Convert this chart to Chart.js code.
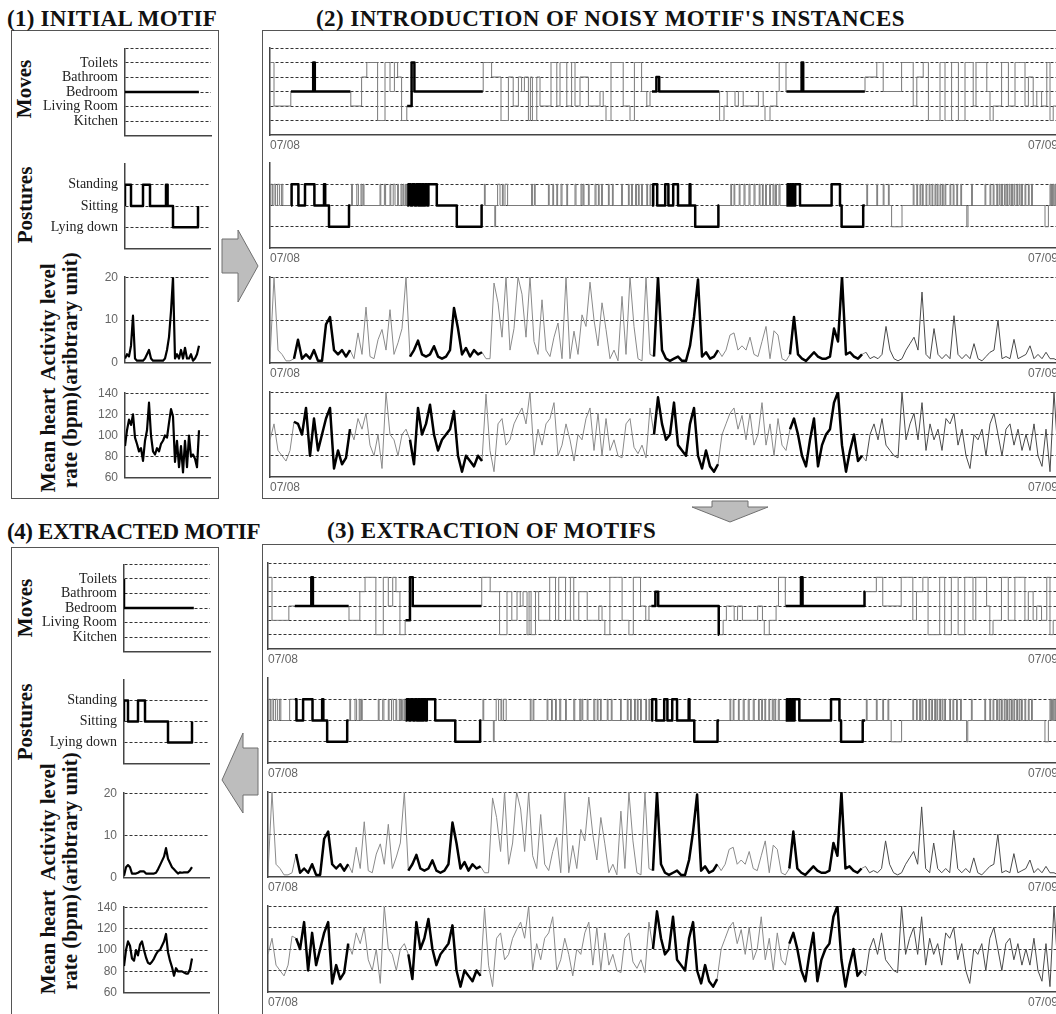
<!DOCTYPE html>
<html><head><meta charset="utf-8">
<script src="https://cdn.jsdelivr.net/npm/chart.js@4.4.1/dist/chart.umd.min.js"></script>
<style>
html,body{margin:0;padding:0;background:#fff;}
body{width:1056px;height:1014px;overflow:hidden;position:relative;}
.t{position:absolute;font-family:"Liberation Serif","Times New Roman",serif;font-weight:bold;font-size:23px;line-height:23px;color:#111;white-space:nowrap;}
.box{position:absolute;border:1px solid #555;box-sizing:border-box;}
.yl{position:absolute;font-family:"Liberation Serif","Times New Roman",serif;font-weight:bold;font-size:21px;line-height:22px;text-align:center;white-space:nowrap;color:#111;transform:translate(-50%,-50%) rotate(-90deg);}
canvas{position:absolute;}
svg{position:absolute;left:0;top:0;}
</style></head>
<body>
<div class="box" style="left:11px;top:30px;width:208px;height:469px"></div>
<div class="box" style="left:262px;top:30px;width:900px;height:469px"></div>
<div class="box" style="left:11px;top:547px;width:208px;height:600px"></div>
<div class="box" style="left:262px;top:544px;width:900px;height:600px"></div>

<div class="t" style="left:7px;top:7px;letter-spacing:0.25px">(1) INITIAL MOTIF</div>
<div class="t" style="left:316px;top:7px;letter-spacing:0.45px">(2) INTRODUCTION OF NOISY MOTIF'S INSTANCES</div>
<div class="t" style="left:7px;top:520px;letter-spacing:-0.4px">(4) EXTRACTED MOTIF</div>
<div class="t" style="left:327px;top:519px;letter-spacing:0.3px">(3) EXTRACTION OF MOTIFS</div>

<div class="yl" style="left:24px;top:89px">Moves</div>
<div class="yl" style="left:25px;top:205px">Postures</div>
<div class="yl" style="left:59px;top:322px">Activity level<br>(aribtrary unit)</div>
<div class="yl" style="left:59px;top:440px">Mean heart<br>rate (bpm)</div>
<div class="yl" style="left:25px;top:608px">Moves</div>
<div class="yl" style="left:25px;top:722px">Postures</div>
<div class="yl" style="left:59px;top:822px">Activity level<br>(aribtrary unit)</div>
<div class="yl" style="left:59px;top:942px">Mean heart<br>rate (bpm)</div>

<svg width="1056" height="1014">
<polygon points="222,239 238,239 238,230 258,266 238,302 238,273 222,273" fill="#bdbdbd" stroke="#707070" stroke-width="1"/>
<polygon points="712,501 748,501 748,507 768,507 730,522 692,507 712,507" fill="#bdbdbd" stroke="#707070" stroke-width="1"/>
<polygon points="222,780 243,733 243,748 258,748 258,795 243,795 243,813" fill="#bdbdbd" stroke="#707070" stroke-width="1"/>
</svg>

<script>
// ---------------- DATA ----------------
const moveLabels = ['Kitchen','Living Room','Bedroom','Bathroom','Toilets']; // levels 1..5
const postureLabels = ['Lying down','Sitting','Standing'];                 // levels 1..3
const activityTicks = [0,10,20];
const heartTicks = [60,80,100,120,140];
const dateLabels = ['07/08','07/09'];

// (1) initial motif  (x in motif time units)
const initMoves = [[0,3],[36.5,3]];
const initPostureEvents = [[0,3,3],[9,12.5,3],[20.5,21.3,3],[24,36.5,1]];
const initPostureEnd = 36.5;
const initActivity = [1,2,1.5,4,11,1,0.5,0.5,0.5,0.5, 1,2,3,1,0.5,0.5,0.5,0.5,0.5,0.5,
  1,3,6,12,20,1,2,1,3,1, 3.5,1,1,2,0.5,1,2,4];
const initHeart = [90,105,115,110,120,98,92,85,88,76, 95,105,131,100,85,82,88,85,92,95,
  100,98,112,125,118,75,95,70,90,65, 95,70,100,80,82,78,70,105];

// (4) extracted motif
const extMoves = [[0,5],[0,3],[34.5,3]];
const extPostureEvents = [[0,2,3],[7,10.5,3],[22,34,1]];
const extPostureEnd = 34;
const extActivity = [0.5,2.5,3,2.5,1,1,1,1.2,1.5,1.5, 1.5,1,1,1,1,1,1.2,2,3,4,
  5,7,4.5,3.5,2.5,2,1.5,1,1.3,1.2, 1.3,1.3,1.3,1.8,2.5];
const extHeart = [85,100,108,104,92,90,100,95,105,108, 100,93,88,87,89,92,96,99,100,104,
  108,115,98,90,84,76,83,80,80,80, 79,78,78,82,92];

// (2)/(3) one day of data, 07/08 -> 07/09 (sample index 0..197)
const dayEnd = 197;
const dayMoves = [[0,5],[1.0,2],[5.2,3],[10.8,5],[11.2,3],[20.2,2],[22.9,4],[24.2,5],[26.9,1],[28.75,5],[30,3],[31.1,5],[31.9,4],[32.9,1],[34.2,2],[35.4,5],[36.1,3],[53.3,5],[55.4,4],[57.75,1],[59.6,4],[60.8,2],[62.1,4],[62.9,3],[63.6,4],[64.6,1],[65.1,4],[65.6,1],[66.7,4],[67.5,2],[70.25,5],[71.7,2],[72.5,5],[74.2,2],[75.4,5],[76.25,2],[77.5,4],[79.6,2],[82.5,3],[83.3,2],[84,1],[85.25,5],[88.3,2],[90,1],[91.1,5],[92.9,3],[94.2,2],[95,3],[96.6,4],[97.3,3],[112.4,1],[113.5,2],[114.3,3],[116.25,2],[117.1,3],[118.3,2],[122.1,3],[123.3,2],[123.75,1],[125,2],[126.7,3],[127.3,5],[129,3],[132.9,5],[133.3,3],[148.75,4],[151.7,5],[153.3,3],[157.9,5],[160.8,2],[161.7,4],[163.3,5],[164.6,1],[167.5,5],[168.75,1],[170.4,5],[172.1,1],[173.75,5],[175.8,2],[176.5,5],[179.2,3],[180,1],[180.8,2],[182.9,5],[184.6,2],[186.25,5],[188.75,2],[189.6,4],[190.8,2],[191.7,3],[192.9,2],[194.2,5],[195,1],[195.8,2],[197,2]];

const dayPostureEvents = [[0.2,0.6,3],[1.0,1.4,3],[1.9,2.4,3],[2.9,3.2,3],
[5.4,7.1,3],[8.75,11.1,3],[13.5,13.8,3],[14.75,19.75,1],
[20.4,20.6,3],[21.7,22.1,3],[22.75,23.0,3],[23.3,23.5,3],[27.5,27.7,3],[28.6,28.9,3],[30.0,30.2,3],[30.8,31.25,3],[31.9,32.1,3],[32.75,33.0,3],[33.3,33.5,3],[33.9,34.1,3],
[34.6,35.2,3],[35.6,36.2,3],[36.6,37.1,3],[37.4,37.8,3],[38.1,38.5,3],[38.8,39.3,3],[39.6,41.7,3],[46.7,52.9,1],
[53.6,53.8,3],[56.2,56.4,1],[56.9,57.5,3],[58.1,58.3,3],[58.75,59.4,3],[65.4,65.6,3],[66.1,66.3,3],[69.6,69.8,3],[70.7,70.9,3],[71.7,71.9,3],[72.75,73.0,3],[74.2,74.4,3],[76.25,76.5,3],[77.75,78.0,3],[78.3,78.5,3],[79.6,79.8,3],[81.25,81.5,3],[82.1,82.3,3],[82.9,83.1,3],[84.6,84.8,3],[85.6,85.8,3],[87.9,88.1,3],[89.6,89.8,3],[90.4,90.6,3],[91.4,91.6,3],[92.1,92.3,3],[92.9,93.1,3],[94.2,94.4,3],[95.0,95.2,3],
[95.8,96.8,3],[98.8,99.6,3],[100.8,102.0,3],[104.9,105.1,3],[106.3,112.1,1],
[115.2,115.4,3],[116.0,116.2,3],[117.3,117.5,3],[118.5,118.75,3],[119.75,120.0,3],[121.0,121.25,3],[122.3,122.5,3],[123.1,123.3,3],[123.9,124.1,3],[124.9,125.1,3],[125.75,126.0,3],[126.4,126.6,3],[127.25,127.5,3],
[129.4,129.7,3],[130.0,130.3,3],[130.6,131.0,3],[131.3,132.5,3],[140.4,142.5,3],[142.9,148.3,1],
[149.2,149.4,3],[151.7,151.9,3],[153.3,153.5,3],[154.6,154.8,3],[155.4,158.0,1],[160.8,161.0,3],[161.7,161.9,3],[162.5,162.7,3],[163.1,163.3,3],[164.0,164.2,3],[164.8,165.0,3],[165.5,165.7,3],[166.25,166.45,3],[166.8,167.0,3],[167.5,167.7,3],[168.1,168.3,3],[168.75,168.95,3],[170.0,170.2,3],[170.8,171.0,3],[171.7,171.9,3],[172.7,172.9,3],[174.2,174.5,1],[175.4,175.6,3],[178.75,178.95,3],[180.0,180.2,3],[180.8,181.0,3],[181.7,181.9,3],[182.3,182.5,3],[182.9,183.1,3],[183.6,183.8,3],[184.2,184.4,3],[184.8,185.0,3],[185.4,185.6,3],[186.0,186.2,3],[186.7,186.9,3],[187.3,187.5,3],[187.9,188.1,3],[188.75,188.95,3],[189.6,189.8,3],[190.4,190.6,3],[193.75,194.6,1],[195.0,195.2,3],[195.4,195.6,3],[195.8,196.0,3],[196.25,196.45,3]];

const dayActivity = [1,20,3,2,0.5,0.5,1,5.4,1,2,
 1,3,0.5,0.5,9,10.7,3,2,3,1.5,
 3,1,7,2,13,1.5,1,5.4,7.8,3,
 12.4,2,4.7,8,20,1.5,3,5.2,2,1.5,
 2,3.9,1.5,1,1.5,3,12.8,8,2,3.5,
 1.5,3,2,2.5,1,1,18.6,14,6,20,
 3,8,20,16,6,20,5,2,14.7,3,
 1.5,6,9.3,1,20,1,7.4,2,11.2,8.5,
 18.8,10,4,14,7.8,1,3,0.5,15.5,2,
 20,8.5,1,0.5,20,2,1.5,20,3,1,
 0.5,1,1.5,0.5,0.5,4,10.7,19.4,1.5,2.5,
 1,1.5,3,1.5,3,6.5,7,3,4,3,
 6,2,1.5,5,8.5,1,7.5,6.5,1,0.5,
 2,10.7,2,1,0.5,1.5,2.5,1.5,1,1,
 1.5,8,5,20,2,2.5,1.5,1,2,2.5,
 1,1.5,1,2,8.5,3,1,0.5,1,3,
 4.5,6,3,16.5,2,1,8,2,1,2,
 1,11,2,1,2,1,4.5,1,0.5,1.5,
 2.5,3,10,1,1.5,1,5.5,1,1.5,2,
 4,1,2,1,2.5,1,1,0.5];

const dayHeart = [95,110,85,80,75,85,112,110,100,125,
 80,115,85,100,115,125,68,85,72,78,
 105,95,115,105,120,90,80,100,68,140,
 100,95,80,100,105,95,72,125,100,110,
 128,100,85,95,100,105,122,80,65,80,
 75,70,80,75,138,85,65,110,115,90,
 95,110,118,125,110,140,80,105,90,110,
 115,130,80,90,110,95,75,100,95,115,
 125,85,120,80,115,85,95,80,78,110,
 115,88,82,90,78,125,100,135,110,95,
 100,130,90,85,80,110,125,80,68,85,
 70,65,72,100,110,120,125,105,118,95,
 120,90,100,130,90,110,80,115,90,85,
 105,115,100,80,70,95,115,70,90,100,
 105,130,140,90,65,85,100,75,80,75,
 100,110,95,115,90,85,80,78,140,95,
 110,120,95,130,85,110,95,105,85,115,
 110,120,90,105,80,68,100,95,105,80,
 110,120,100,80,105,110,90,105,85,100,
 85,110,80,70,105,65,140,80];

// motif instances (sample-index ranges)
const noisyMotifRanges = [[5.25,20.1],[34.3,53.2],[95.5,112.3],[129.1,148.7]];
const extractedMotifRanges = [[6.7,20.1],[34.3,53.2],[95.6,112.5],[129.1,148.9]];
const smallXMax = 42.5;

// ---------------- HELPERS ----------------
const SERIF = '"Liberation Serif","Times New Roman",serif';
const SANS = '"Liberation Sans",Arial,sans-serif';

function pairsToPts(pairs){ return pairs.map(([x,y])=>({x,y})); }
function eventsToPts(events,end){
  const pts=[{x:0,y:2}];
  events.forEach(([a,b,l])=>{pts.push({x:a,y:l});pts.push({x:b,y:2});});
  pts.push({x:end,y:2});
  return pts;
}
function seriesPts(vals){ return vals.map((v,i)=>({x:i,y:v})); }
function levelAt(pts,x){ let y=pts[0].y; for(const p of pts){ if(p.x<=x) y=p.y; else break; } return y; }
function stepOverlay(pts,ranges){
  const out=[];
  ranges.forEach(([a,b])=>{
    out.push({x:a,y:levelAt(pts,a)});
    pts.forEach(p=>{ if(p.x>a && p.x<b) out.push({x:p.x,y:p.y}); });
    out.push({x:b,y:levelAt(pts,b)});
    out.push({x:b,y:null});
  });
  return out;
}
function sampleOverlay(vals,ranges){
  return vals.map((v,i)=> ranges.some(([a,b])=>i>=a && i<=b) ? {x:i,y:v} : {x:i,y:null});
}

const Y = {
  moves:{min:0,max:6,ticks:[0,1,2,3,4,5,6],hide:[0],label:v=>moveLabels[v-1]||'',font:{family:SERIF,size:14},color:'#222'},
  postures:{min:0,max:4,ticks:[0,1,2,3,4],hide:[0,4],label:v=>postureLabels[v-1]||'',font:{family:SERIF,size:14},color:'#222'},
  activity:{min:0,max:20,ticks:activityTicks,hide:[0],label:v=>String(v),font:{family:SANS,size:12},color:'#666'},
  heart:{min:60,max:140,ticks:heartTicks,hide:[60],label:v=>String(v),font:{family:SANS,size:12},color:'#666'}
};
function yOpts(spec,show){
  return {type:'linear',min:spec.min,max:spec.max,
    afterBuildTicks:s=>{s.ticks=spec.ticks.map(v=>({value:v}));},
    afterFit:s=>{s.width=Math.ceil(s.width);},
    ticks:{display:show,autoSkip:false,padding:7,font:spec.font,color:spec.color,callback:v=>spec.label(v)},
    grid:{drawTicks:false,lineWidth:1,color:c=>(c.tick && spec.hide.includes(c.tick.value))?'rgba(0,0,0,0)':'#333'},
    border:{display:true,color:'#444',width:1.5,dash:[3,2]}};
}
function xOpts(max,showDates){
  return {type:'linear',min:0,max:max,
    afterBuildTicks:s=>{s.ticks=[{value:0},{value:max}];},
    afterFit:s=>{s.height=Math.ceil(s.height);},
    ticks:{display:showDates,autoSkip:false,maxRotation:0,minRotation:0,align:'inner',padding:3,font:{family:SANS,size:12},color:'#666',callback:(v,i)=>dateLabels[i]},
    grid:{display:false,drawTicks:false},
    border:{display:true,color:'#444',width:1.5}};
}
function conf(kind,showY,xMax,showDates,datasets){
  return {type:'line',data:{datasets},options:{responsive:false,animation:false,events:[],
    layout:{padding:{top:10,right:4,bottom:2,left:0}},
    plugins:{legend:{display:false},tooltip:{enabled:false}},
    elements:{point:{radius:0},line:{tension:0}},
    scales:{x:xOpts(xMax,showDates),y:yOpts(Y[kind],showY)}}};
}
function makeChart(plot,cfgFn){
  const [L,T,R,B]=plot;
  const c=document.createElement('canvas');
  document.body.appendChild(c);
  let W=(R-L)+140, H=(B-T)+40, chart;
  for(let pass=0;pass<3;pass++){
    c.width=W;c.height=H;c.style.width=W+'px';c.style.height=H+'px';
    chart=new Chart(c,cfgFn());
    const ca=chart.chartArea;
    const dw=(R-L)-(ca.right-ca.left), dh=(B-T)-(ca.bottom-ca.top);
    if((Math.abs(dw)<0.5 && Math.abs(dh)<0.5) || pass===2) break;
    chart.destroy(); W=Math.round(W+dw); H=Math.round(H+dh);
  }
  const ca=chart.chartArea;
  c.style.left=Math.round(L-ca.left)+'px'; c.style.top=Math.round(T-ca.top)+'px';
  return chart;
}
const THICK={borderColor:'#000',borderWidth:2.5,pointRadius:0,fill:false,spanGaps:false,borderJoinStyle:'round'};
function thin(split){
  return {borderWidth:1,pointRadius:0,fill:false,spanGaps:false,borderColor:'#888',
    segment:{borderColor:ctx=> (split && ctx.p0.parsed.x>=149)?'#4a4a4a':(split?'#8a8a8a':'#7a7a7a')}};
}

// ---------------- SMALL CHARTS (1) and (4) ----------------
function smallSet(moves,postEv,postEnd,act,heart,rows){
  makeChart(rows[0],()=>conf('moves',true,smallXMax,false,[Object.assign({data:pairsToPts(moves),stepped:true},THICK)]));
  makeChart(rows[1],()=>conf('postures',true,smallXMax,false,[Object.assign({data:eventsToPts(postEv,postEnd),stepped:true},THICK)]));
  makeChart(rows[2],()=>conf('activity',true,smallXMax,false,[Object.assign({data:seriesPts(act)},THICK,{borderWidth:2.2})]));
  makeChart(rows[3],()=>conf('heart',true,smallXMax,false,[Object.assign({data:seriesPts(heart)},THICK,{borderWidth:2.2})]));
}
smallSet(initMoves,initPostureEvents,initPostureEnd,initActivity,initHeart,
  [[125,48,210,135],[125,163,210,248],[125,277,210,363],[125,393,210,478]]);
smallSet(extMoves,extPostureEvents,extPostureEnd,extActivity,extHeart,
  [[124,564,209,651],[124,679,209,763],[124,793,209,878],[124,907,209,993]]);

// ---------------- WIDE CHARTS (2) and (3) ----------------
function wideSet(ranges,rows){
  makeChart(rows[0],()=>{const p=pairsToPts(dayMoves);
    return conf('moves',false,dayEnd,true,[Object.assign({data:stepOverlay(p,ranges),stepped:true},THICK),Object.assign({data:p,stepped:true},thin(false))]);});
  makeChart(rows[1],()=>{const p=eventsToPts(dayPostureEvents,dayEnd);
    return conf('postures',false,dayEnd,true,[Object.assign({data:stepOverlay(p,ranges),stepped:true},THICK),Object.assign({data:p,stepped:true},thin(false))]);});
  makeChart(rows[2],()=>conf('activity',false,dayEnd,true,[Object.assign({data:sampleOverlay(dayActivity,ranges)},THICK),Object.assign({data:seriesPts(dayActivity)},thin(true))]));
  makeChart(rows[3],()=>conf('heart',false,dayEnd,true,[Object.assign({data:sampleOverlay(dayHeart,ranges)},THICK),Object.assign({data:seriesPts(dayHeart)},thin(true))]));
}
wideSet(noisyMotifRanges,[[270,48,1058,135],[270,163,1058,248],[270,277,1058,363],[270,392,1058,477]]);
wideSet(extractedMotifRanges,[[268,563,1058,649],[268,678,1058,763],[268,792,1058,877],[268,906,1058,992]]);
</script>
</body></html>
